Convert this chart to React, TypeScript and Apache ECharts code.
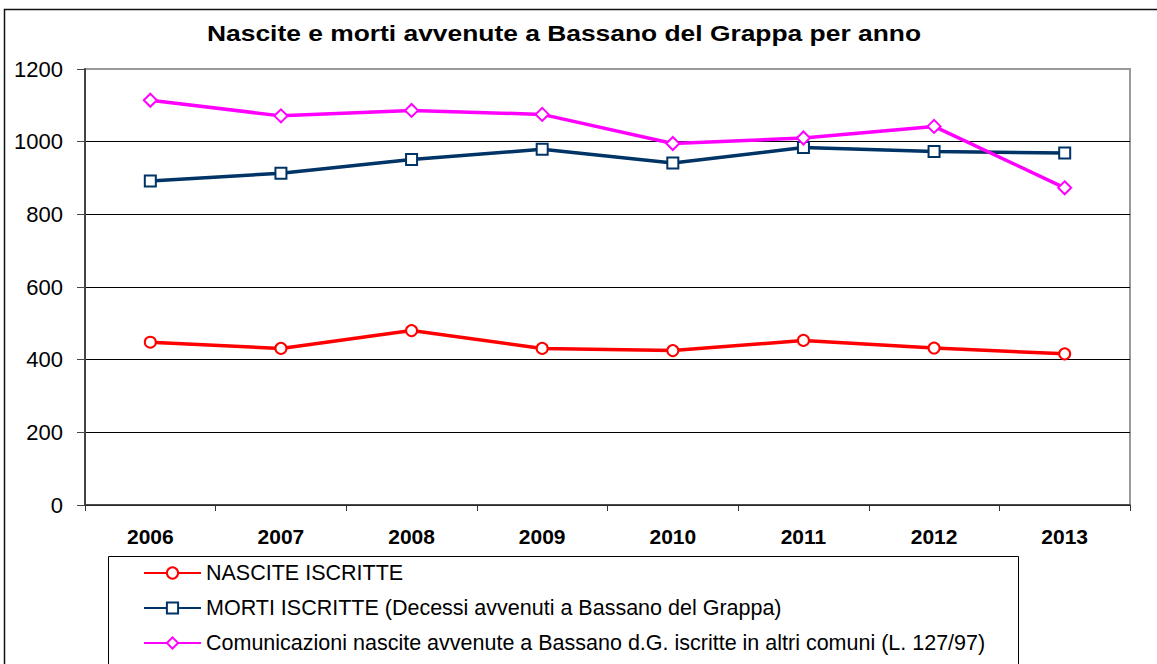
import React, { useEffect, useRef } from "react";
import * as echarts from "echarts";

const TITLE = "Nascite e morti avvenute a Bassano del Grappa per anno";
const years = ["2006", "2007", "2008", "2009", "2010", "2011", "2012", "2013"];
const yTicks = [0, 200, 400, 600, 800, 1000, 1200];

const nasciteName = "NASCITE ISCRITTE";
const nascite = [448, 431, 480, 431, 425, 453, 432, 416];

const mortiName = "MORTI ISCRITTE (Decessi avvenuti a Bassano del Grappa)";
const morti = [892, 913, 951, 979, 941, 984, 973, 969];

const comunicName =
  "Comunicazioni nascite avvenute a Bassano d.G. iscritte in altri comuni (L. 127/97)";
const comunic = [1114, 1071, 1086, 1075, 995, 1010, 1042, 873];

const FONT = "'Liberation Sans', Arial, sans-serif";

export default function App() {
  const ref = useRef<HTMLDivElement>(null);

  useEffect(() => {
    document.body.style.margin = "0";
    if (!ref.current) return;
    const chart = echarts.init(ref.current, null, { renderer: "svg" });
    const mk = (name: string, data: number[], color: string, symbol: string, size: number) => ({
      name,
      type: "line",
      data,
      symbol,
      symbolSize: size,
      showAllSymbol: true,
      lineStyle: { color, width: 3.5 },
      itemStyle: { color, borderColor: color, borderWidth: 2 },
      z: 3,
    });
    chart.setOption({
      animation: false,
      backgroundColor: "#ffffff",
      textStyle: { fontFamily: FONT },
      grid: {
        left: 85,
        top: 69,
        right: 27,
        bottom: 159,
        show: true,
        borderColor: "#999999",
        borderWidth: 2,
        backgroundColor: "transparent",
      },
      xAxis: {
        type: "category",
        data: years,
        boundaryGap: true,
        axisLine: { lineStyle: { color: "#333333", width: 1.5 } },
        axisTick: { show: true, alignWithLabel: false, length: 6, lineStyle: { color: "#333333" } },
        axisLabel: {
          color: "#000000",
          fontFamily: FONT,
          fontWeight: "bold",
          fontSize: 21,
          margin: 21,
        },
        splitLine: { show: false },
      },
      yAxis: {
        type: "value",
        min: yTicks[0],
        max: yTicks[yTicks.length - 1],
        interval: 200,
        axisLine: { show: true, lineStyle: { color: "#444444", width: 2 } },
        axisTick: { show: true, length: 8, lineStyle: { color: "#444444" } },
        axisLabel: {
          color: "#000000",
          fontFamily: FONT,
          fontSize: 22,
          margin: 22,
          formatter: (v: number) => String(v),
        },
        splitLine: {
          show: true,
          lineStyle: {
            color: ["#000000", "#000000", "#000000", "#000000", "#000000", "#000000", "#999999"],
            width: 1,
          },
        },
      },
      legend: {
        orient: "vertical",
        left: 143,
        top: 562,
        itemWidth: 57,
        itemHeight: 14,
        itemGap: 13,
        padding: 0,
        textStyle: { color: "#000000", fontFamily: FONT, fontSize: 21.5, lineHeight: 22 },
        data: [nasciteName, mortiName, comunicName],
      },
      graphic: [
        {
          type: "rect",
          silent: true,
          shape: { x: 4.5, y: 9.5, width: 1300, height: 800 },
          style: { fill: "none", stroke: "#111111", lineWidth: 1.5 },
          z: -10,
        },
        {
          type: "rect",
          silent: true,
          shape: { x: 108.5, y: 556.5, width: 910, height: 200 },
          style: { fill: "none", stroke: "#000000", lineWidth: 1 },
          z: -10,
        },
        {
          type: "text",
          x: 564,
          y: 33,
          scaleX: 1.2,
          style: {
            text: TITLE,
            fill: "#000000",
            font: `bold 22px ${FONT}`,
            textAlign: "center",
            textVerticalAlign: "middle",
          },
        },
      ],
      series: [
        mk(nasciteName, nascite, "#ff0000", "emptyCircle", 11),
        mk(mortiName, morti, "#003366", "emptyRect", 11),
        mk(comunicName, comunic, "#ff00ff", "emptyDiamond", 13),
      ],
    });
    return () => chart.dispose();
  }, []);

  return (
    <div
      ref={ref}
      style={{ position: "fixed", left: 0, top: 0, width: 1157, height: 664 }}
    />
  );
}
